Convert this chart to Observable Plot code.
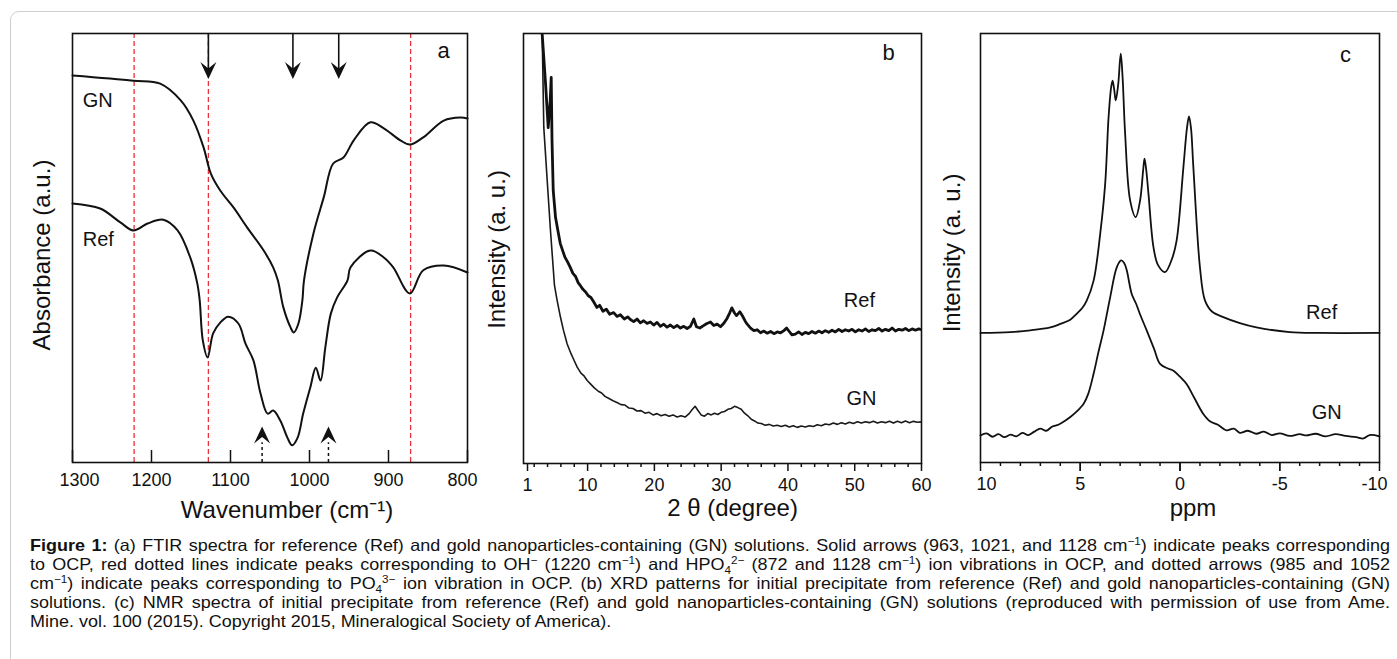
<!DOCTYPE html>
<html><head><meta charset="utf-8">
<script src="https://cdn.jsdelivr.net/npm/d3@7"></script>
<script src="https://cdn.jsdelivr.net/npm/@observablehq/plot@0.6"></script>
<style>
body{margin:0;background:#fff;}
#wrap{position:relative;width:1397px;height:659px;overflow:hidden;font-family:"Liberation Sans",Arial,sans-serif;}
#border{position:absolute;left:10px;top:11px;width:1420px;height:700px;border:1px solid #cfcfcf;border-radius:9px;box-sizing:border-box;}
.panel{position:absolute;top:0;}
#caption{position:absolute;left:30px;top:536px;font-size:16.5px;line-height:19px;color:#111;transform-origin:0 0;}
#caption div{white-space:nowrap;}
#caption span{display:inline-block;}
sup,sub{font-size:65%;line-height:0;}
</style></head>
<body><div id="wrap"><div id="border"></div>
<div id="pa" class="panel" style="left:0"></div>
<div id="pb" class="panel" style="left:480px"></div>
<div id="pc" class="panel" style="left:940px"></div>
<div id="caption">
<div><span><b>Figure 1:</b> (a) FTIR spectra for reference (Ref) and gold nanoparticles-containing (GN) solutions. Solid arrows (963, 1021, and 1128 cm<sup>−1</sup>) indicate peaks corresponding</span></div>
<div><span>to OCP, red dotted lines indicate peaks corresponding to OH<sup>−</sup> (1220 cm<sup>−1</sup>) and HPO<sub>4</sub><sup>2−</sup> (872 and 1128 cm<sup>−1</sup>) ion vibrations in OCP, and dotted arrows (985 and 1052</span></div>
<div><span>cm<sup>−1</sup>) indicate peaks corresponding to PO<sub>4</sub><sup>3−</sup> ion vibration in OCP. (b) XRD patterns for initial precipitate from reference (Ref) and gold nanoparticles-containing (GN)</span></div>
<div><span>solutions. (c) NMR spectra of initial precipitate from reference (Ref) and gold nanoparticles-containing (GN) solutions (reproduced with permission of use from Ame.</span></div>
<div class="last"><span>Mine. vol. 100 (2015). Copyright 2015, Mineralogical Society of America).</span></div>
</div></div>
<script>
// ---------- Panel a: FTIR ----------
const ftirTicks = [1300, 1200, 1100, 1000, 900, 800];
const ftirInnerTicks = [1200, 1100, 1000, 900];
const ftirWnGN = [1300,1223,1189,1163,1147,1134,1125,1113,1096,1079,1058,1046,1040,1033,1024,1020,1014,1009,1007,995,982,970,957,944,923,906,885,873,856,830,809,800];
const ftirGN   = [90.2,89.0,88.3,84.4,79.7,73.4,67.4,63.4,59.4,54.8,49.4,45.5,42.4,36.1,31.5,30.3,32.4,37.8,42.4,53.4,61.8,69.7,71.1,75.1,79.3,77.9,75.1,74.1,75.8,79.7,80.4,80.2];
const ftirWnRef = [1300,1265,1239,1223,1205,1185,1167,1151,1142,1139,1135,1129,1122,1113,1103,1090,1081,1071,1062,1053,1046,1037,1028,1022,1015,1008,999,992,986,980,973,965,952,948,923,906,894,873,856,830,800];
const ftirRef   = [60.4,59.2,55.9,54.1,55.7,56.6,54.1,47.8,41.7,37.8,28.4,24.5,30.1,32.6,34.0,32.4,27.7,23.8,16.1,11.4,12.1,9.8,5.8,4.0,5.8,11.4,17.5,22.1,19.1,26.8,34.7,38.5,42.4,45.5,49.4,47.8,45.5,39.4,44.8,45.9,44.3];
const redLines = [1222, 1128, 872];
const solidArrows = [1128, 1021, 963];
const dottedArrows = [1060, 976];
const ftirLabels = ["GN", "Ref"];
const ftirLabelWn = [1287, 1287];
const ftirLabelY = [84.4, 52.0];

// ---------- Panel b: XRD ----------
const xrdMajor = [1, 10, 20, 30, 40, 50, 60];
const xrdMinor = [2,4,6,8,12,14,16,18,22,24,26,28,32,34,36,38,42,44,46,48,52,54,56,58];
const xrdThetaRef = [3.2,3.7,4.1,4.4,4.55,4.67,4.85,5.2,5.5,5.9,6.2,6.6,7.0,7.4,7.8,8.2,8.6,8.9,9.3,9.7,10.1,10.5,10.9,11.4,11.8,12.3,12.8,13.3,13.9,14.4,14.9,15.5,16.0,16.4,16.9,17.4,17.9,18.4,18.9,19.4,19.9,20.4,20.9,21.4,21.9,22.4,22.9,23.4,23.9,24.4,24.9,25.4,25.9,26.3,26.8,27.3,27.8,28.4,28.9,29.4,29.9,30.4,30.9,31.3,31.6,32.0,32.3,32.8,33.2,33.6,33.9,34.4,34.9,35.4,35.9,36.4,36.9,37.4,37.9,38.4,38.9,39.4,39.8,40.2,40.6,41.1,41.6,42.1,42.6,43.1,43.6,44.1,44.6,45.1,45.6,46.1,46.6,47.1,47.6,48.1,48.6,49.1,49.6,50.1,50.6,51.1,51.6,52.1,52.6,53.1,53.6,54.1,54.6,55.1,55.6,56.1,56.6,57.1,57.6,58.1,58.6,59.1,59.6,60.0];
const xrdRef = [99.8,88.4,78.1,84.4,89.8,75.1,63.5,57.2,54.6,51.2,49.8,48.0,46.9,45.6,44.2,43.5,42.0,41.4,40.5,39.9,39.0,38.6,37.6,36.3,36.8,35.4,35.9,34.7,35.1,34.2,34.6,33.6,34.1,33.5,33.0,33.6,32.7,33.2,32.6,32.9,32.2,32.8,31.9,32.4,31.7,32.2,31.6,32.1,31.5,31.9,31.4,31.9,33.6,31.8,31.5,32.0,32.5,32.9,32.1,32.4,31.8,32.6,33.8,35.1,36.2,35.0,34.4,35.3,34.3,33.1,32.4,31.5,30.9,31.1,30.4,30.8,30.3,30.7,30.2,30.6,30.4,30.9,31.5,30.7,29.9,30.1,30.6,30.0,30.5,30.2,30.7,30.3,30.8,30.4,30.9,30.5,31.0,30.6,31.2,30.7,31.1,30.8,31.2,30.6,31.1,30.8,31.3,30.7,31.1,30.9,31.4,30.8,31.2,30.9,31.5,30.8,31.2,31.0,31.4,30.9,31.3,31.0,31.3,31.1];
const xrdThetaGN = [3.2,3.44,3.95,4.44,5.04,5.44,5.94,6.4,6.94,7.5,8.0,8.44,9.0,9.5,9.94,10.5,11.0,11.6,12.1,12.6,13.2,13.8,14.4,15.0,15.6,16.2,16.8,17.4,18.0,18.6,19.2,19.8,20.4,21.0,21.6,22.2,22.8,23.4,24.0,24.6,25.2,25.7,26.1,26.5,27.0,27.5,28.0,28.5,29.0,29.5,30.0,30.5,31.0,31.5,32.0,32.5,33.0,33.5,34.0,34.5,35.0,35.5,36.0,36.6,37.2,37.8,38.4,39.0,39.6,40.2,40.8,41.4,42.0,42.6,43.2,43.8,44.4,45.0,45.6,46.2,46.8,47.4,48.0,48.6,49.2,49.8,50.4,51.0,51.6,52.2,52.8,53.4,54.0,54.6,55.2,55.8,56.4,57.0,57.6,58.2,58.8,59.4,60.0];
const xrdGN = [99.8,78.1,65.8,54.2,41.4,37.9,34.0,30.9,27.8,25.6,23.9,22.4,21.0,20.3,19.3,18.4,17.6,16.8,16.4,15.6,15.1,14.6,14.2,13.7,13.6,12.9,12.8,12.2,12.3,11.7,11.9,11.3,11.6,11.1,11.4,11.0,11.3,10.8,11.1,10.8,11.6,12.6,13.3,12.4,11.3,11.0,11.6,11.3,11.7,11.4,11.9,12.1,12.6,12.8,13.3,13.0,12.6,11.7,11.1,10.3,9.9,9.4,9.3,8.9,9.1,8.7,8.9,8.6,8.9,8.5,8.8,8.4,8.7,8.5,8.8,8.6,9.0,8.8,9.2,9.0,9.4,9.1,9.5,9.2,9.6,9.3,9.7,9.4,9.7,9.5,9.8,9.4,9.7,9.5,9.8,9.4,9.8,9.5,9.9,9.5,9.8,9.6,9.7];
const xrdLabels = ["Ref", "GN"];
const xrdLabelTheta = [50.7, 51.0];
const xrdLabelY = [37.9, 15.1];

// ---------- Panel c: NMR ----------
const nmrMajor = [10, 5, 0, -5, -10];
const nmrInnerMajor = [5, 0, -5];
const nmrMinor = [9,8,7,6,4,3,2,1,-1,-2,-3,-4,-6,-7,-8,-9];
const nmrPpmRef = [10,8.5,7.5,6.5,6,5.5,5.17,4.9,4.67,4.33,4.0,3.75,3.58,3.45,3.38,3.3,3.22,3.1,2.97,2.88,2.75,2.5,2.22,2.0,1.85,1.78,1.7,1.58,1.33,1.1,0.75,0.4,0.17,-0.17,-0.35,-0.45,-0.55,-0.67,-1.0,-1.25,-1.6,-2.17,-3,-3.83,-5.5,-7,-10];
const nmrRef = [30.2,30.4,30.8,31.5,32.3,33.3,34.7,36.0,37.8,42.4,53.3,65.0,80.5,87.5,89.0,87.0,84.4,88.0,95.3,90.0,76.6,61.1,57.2,61.1,68.0,70.8,68.5,62.6,50.2,46.0,44.4,47.5,51.7,68.8,78.0,80.7,78.0,68.8,45.5,37.8,35.2,33.9,32.5,31.5,30.4,30.2,30.2];
const nmrPpmGN = [10,9.7,9.4,9.1,8.8,8.5,8.2,7.9,7.6,7.3,7.0,6.7,6.4,6.1,5.8,5.5,5.2,4.83,4.6,4.33,4.1,3.83,3.5,3.17,2.95,2.8,2.67,2.42,2.2,2.0,1.67,1.3,1.0,0.6,0.33,0.0,-0.33,-0.7,-1.17,-1.5,-1.9,-2.33,-2.7,-3.0,-3.4,-3.83,-4.2,-4.6,-5.0,-5.5,-6.0,-6.33,-6.8,-7.3,-7.8,-8.3,-8.83,-9.2,-9.5,-10];
const nmrGN = [6.3,6.8,6.0,6.6,5.9,6.5,6.1,6.9,6.4,7.2,7.9,7.4,8.4,8.8,9.6,10.6,11.8,13.7,16.0,20.7,25.5,30.8,38.5,45.5,47.1,46.5,44.8,39.3,37.0,34.5,30.8,26.5,23.0,21.9,21.4,20.0,18.3,15.2,11.3,9.6,8.8,7.5,7.9,6.9,7.4,6.7,7.2,6.4,6.8,6.2,6.6,6.3,6.7,6.1,6.6,6.2,5.9,5.6,6.4,6.1];
const nmrLabels = ["Ref", "GN"];
const nmrLabelPpm = [-7.1, -7.35];
const nmrLabelY = [35.0, 11.7];

const rows = (xs, ys) => xs.map((x, i) => ({x, y: ys[i]}));
const labelRows = (t, xs, ys) => t.map((s, i) => ({text: s, x: xs[i], y: ys[i]}));

const FONT = "'Liberation Sans', Arial, Helvetica, sans-serif";
const INK = "#111";
const stealthDown = {draw(c) { c.moveTo(0, 8.5); c.lineTo(-8, -8.5); c.lineTo(0, -2); c.lineTo(8, -8.5); c.closePath(); }};
const stealthUp = {draw(c) { c.moveTo(0, -8.5); c.lineTo(-8, 8.5); c.lineTo(0, 2); c.lineTo(8, 8.5); c.closePath(); }};

const common = {height: 520, marginTop: 33, style: {fontFamily: FONT, fontSize: "18px", color: INK, background: "transparent", overflow: "visible"}};

// Panel a
const pa = Plot.plot({
  ...common, width: 480, marginLeft: 72, marginRight: 13, marginBottom: 58,
  x: {domain: [1300, 800]},
  y: {domain: [0, 100], axis: null},
  marks: [
    Plot.ruleX(redLines, {x: d => d, stroke: "#e8333a", strokeWidth: 1.3, strokeDasharray: "5,3"}),
    Plot.line(rows(ftirWnGN, ftirGN), {x: "x", y: "y", stroke: INK, strokeWidth: 2, curve: "catmull-rom"}),
    Plot.line(rows(ftirWnRef, ftirRef), {x: "x", y: "y", stroke: INK, strokeWidth: 2, curve: "catmull-rom"}),
    Plot.ruleX(solidArrows, {x: d => d, y1: 100, y2: 91.4, stroke: INK, strokeWidth: 1.6}),
    Plot.dot(solidArrows, {x: d => d, y: 91.4, symbol: stealthDown, fill: INK, stroke: "none"}),
    Plot.ruleX(dottedArrows, {x: d => d, y1: 0, y2: 4.6, stroke: INK, strokeWidth: 1.5, strokeDasharray: "3,3"}),
    Plot.dot(dottedArrows, {x: d => d, y: 6.4, symbol: stealthUp, fill: INK, stroke: "none"}),
    Plot.ruleX(ftirTicks, {x: d => d, y1: 0, y2: 2.8, stroke: INK, strokeWidth: 1.5}),
    Plot.frame({stroke: INK, strokeWidth: 1.6}),
    Plot.axisX({ticks: ftirInnerTicks, tickSize: 0, tickPadding: 11, tickFormat: d => String(d), label: null}),
    Plot.text(ftirTicks.slice(0, 1), {x: d => d, frameAnchor: "bottom", dy: 11, dx: 7, lineAnchor: "top", text: d => String(d), fill: INK}),
    Plot.text(ftirTicks.slice(-1), {x: d => d, frameAnchor: "bottom", dy: 11, dx: -5, lineAnchor: "top", text: d => String(d), fill: INK}),
    Plot.text(labelRows(ftirLabels, ftirLabelWn, ftirLabelY), {x: "x", y: "y", text: "text", textAnchor: "start", fontSize: 20, fill: INK}),
    Plot.text(["a"], {frameAnchor: "top-right", dx: -24, dy: 17, text: d => d, textAnchor: "middle", lineAnchor: "middle", fontSize: 22, fill: INK}),
    Plot.text(["Wavenumber (cm⁻¹)"], {frameAnchor: "bottom", dx: 17, dy: 48, text: d => d, lineAnchor: "middle", fontSize: 24, fill: INK}),
    Plot.text(["Absorbance (a.u.)"], {frameAnchor: "left", rotate: -90, dx: -30, dy: 7, text: d => d, lineAnchor: "middle", textAnchor: "middle", fontSize: 24, fill: INK})
  ]
});
document.getElementById("pa").appendChild(pa);

// Panel b
const pb = Plot.plot({
  ...common, width: 460, marginLeft: 43, marginRight: 19, marginBottom: 57,
  x: {domain: [0.4, 60]},
  y: {domain: [0, 100], axis: null},
  marks: [
    Plot.line(rows(xrdThetaGN, xrdGN), {x: "x", y: "y", stroke: "#1a1a1a", strokeWidth: 1.6, clip: true}),
    Plot.line(rows(xrdThetaRef, xrdRef), {x: "x", y: "y", stroke: "#111", strokeWidth: 2.8, clip: true}),
    Plot.frame({stroke: INK, strokeWidth: 1.6}),
    Plot.axisX({ticks: xrdMinor, tickSize: 4, tickFormat: () => "", label: null, strokeWidth: 1.5}),
    Plot.axisX({ticks: xrdMajor, tickSize: 8, tickPadding: 7, tickFormat: d => String(d), label: null, strokeWidth: 1.5}),
    Plot.text(labelRows(xrdLabels, xrdLabelTheta, xrdLabelY), {x: "x", y: "y", text: "text", textAnchor: "middle", fontSize: 20, fill: INK}),
    Plot.text(["b"], {frameAnchor: "top-right", dx: -33, dy: 19, text: d => d, textAnchor: "middle", lineAnchor: "middle", fontSize: 22, fill: INK}),
    Plot.text(["2 θ (degree)"], {frameAnchor: "bottom", dx: 10, dy: 45, text: d => d, lineAnchor: "middle", fontSize: 24, fill: INK}),
    Plot.text(["Intensity (a. u.)"], {frameAnchor: "left", rotate: -90, dx: -26, dy: 1, text: d => d, lineAnchor: "middle", textAnchor: "middle", fontSize: 24, fill: INK})
  ]
});
document.getElementById("pb").appendChild(pb);

// Panel c
const pc = Plot.plot({
  ...common, width: 457, marginLeft: 40, marginRight: 18, marginBottom: 58,
  x: {domain: [10, -10]},
  y: {domain: [0, 100], axis: null},
  marks: [
    Plot.line(rows(nmrPpmRef, nmrRef), {x: "x", y: "y", stroke: INK, strokeWidth: 1.8, curve: "catmull-rom"}),
    Plot.line(rows(nmrPpmGN, nmrGN), {x: "x", y: "y", stroke: INK, strokeWidth: 1.8, curve: "catmull-rom"}),
    Plot.frame({stroke: INK, strokeWidth: 1.6}),
    Plot.axisX({ticks: nmrMinor, tickSize: 4, tickFormat: () => "", label: null, strokeWidth: 1.5}),
    Plot.axisX({ticks: nmrMajor, tickSize: 9, tickFormat: () => "", label: null, strokeWidth: 1.5}),
    Plot.axisX({ticks: nmrInnerMajor, tickSize: 9, tickPadding: 6, tickFormat: d => String(d), label: null, strokeWidth: 1.5}),
    Plot.text(nmrMajor.slice(0, 1), {x: d => d, frameAnchor: "bottom", dy: 15, dx: 6, lineAnchor: "top", text: d => String(d), fill: INK}),
    Plot.text(nmrMajor.slice(-1), {x: d => d, frameAnchor: "bottom", dy: 15, dx: -5, lineAnchor: "top", text: d => String(d), fill: INK}),
    Plot.text(labelRows(nmrLabels, nmrLabelPpm, nmrLabelY), {x: "x", y: "y", text: "text", textAnchor: "middle", fontSize: 20, fill: INK}),
    Plot.text(["c"], {frameAnchor: "top-right", dx: -34, dy: 21, text: d => d, textAnchor: "middle", lineAnchor: "middle", fontSize: 22, fill: INK}),
    Plot.text(["ppm"], {frameAnchor: "bottom", dx: 13, dy: 46, text: d => d, lineAnchor: "middle", fontSize: 24, fill: INK}),
    Plot.text(["Intensity (a. u.)"], {frameAnchor: "left", rotate: -90, dx: -28, dy: 5, text: d => d, lineAnchor: "middle", textAnchor: "middle", fontSize: 24, fill: INK})
  ]
});
document.getElementById("pc").appendChild(pc);

// ---------- Caption: fit justified lines to 1360px ----------
(function fitCaption() {
  const TARGET = 1360;
  const cap = document.getElementById("caption");
  const lines = Array.from(cap.querySelectorAll("div"));
  const widths = lines.map(d => d.firstElementChild.getBoundingClientRect().width);
  const maxW = Math.max(...widths);
  const s = Math.min(1.2, TARGET / (maxW + 30));
  cap.style.transform = `scaleX(${s})`;
  cap.style.width = (TARGET / s) + "px";
  lines.forEach((d, i) => {
    if (d.classList.contains("last")) return;
    const span = d.firstElementChild;
    const text = span.textContent;
    const spaces = (text.match(/ /g) || []).length;
    const extra = (TARGET / s - widths[i]) / Math.max(1, spaces);
    span.style.wordSpacing = extra + "px";
  });
})();
</script>
</body></html>
